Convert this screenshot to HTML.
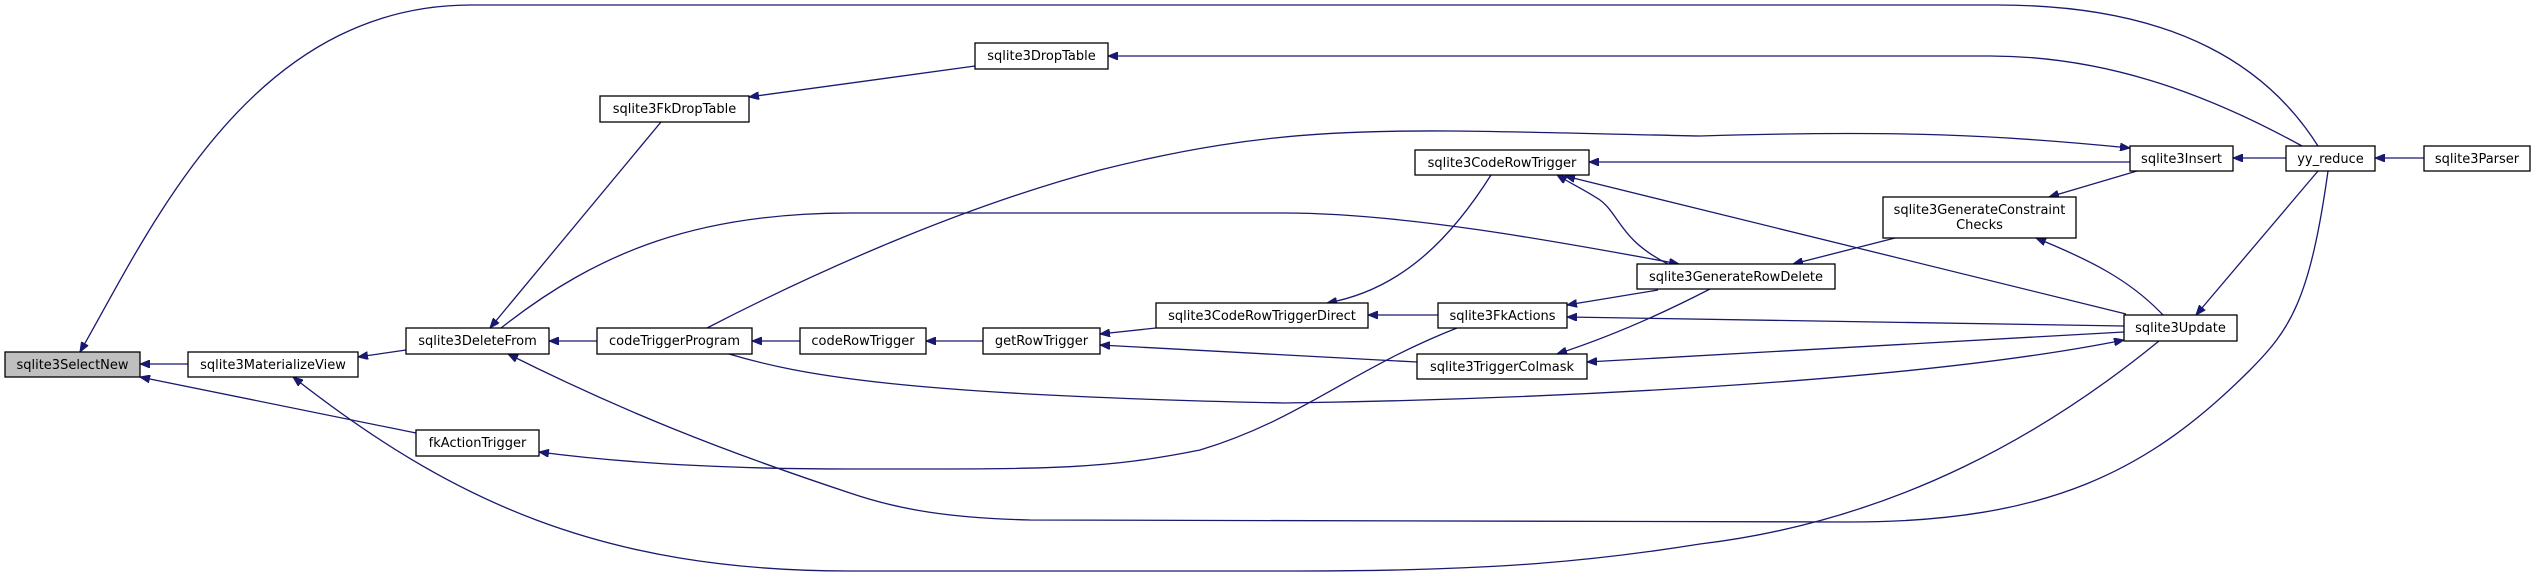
<!DOCTYPE html>
<html><head><meta charset="utf-8"><style>
html,body{margin:0;padding:0;background:#fff;}
svg{display:block;}
text{font-family:"DejaVu Sans","Liberation Sans",sans-serif;font-size:13px;fill:#000;}
.e{fill:none;stroke:#191970;stroke-width:1.3;}
.n{fill:#fff;stroke:#000;stroke-width:1.3;}
</style></head><body>
<svg width="2535" height="572" viewBox="0 0 2535 572" xmlns="http://www.w3.org/2000/svg">
<defs><marker id="a" viewBox="0 0 10 8" refX="10" refY="4" markerWidth="10" markerHeight="8" markerUnits="userSpaceOnUse" orient="auto"><path d="M0,0 L10,4 L0,8 Z" fill="#191970" stroke="#191970"/></marker></defs>
<g class="e" marker-end="url(#a)">
<path d="M2318,146 C2270,70 2180,5 1998,5 L471,5 C250,5 150,230 80,352"/>
<path d="M188,364 L140,364"/>
<path d="M416,433 L140,377"/>
<path d="M406,350 L358,357"/>
<path d="M2159,341 C2050,430 1900,520 1700,544 C1600,560 1500,571 1300,571 L850,571 C600,571 450,500 293,377"/>
<path d="M2328,171 C2310,300 2290,330 2250,370 C2150,470 2050,522 1850,522 L1030,520 C950,518 900,510 850,493 C720,450 620,410 508,354"/>
<path d="M661,122 L490,328"/>
<path d="M975,66 L749,97"/>
<path d="M2302,146 C2200,90 2100,56 1990,56 L1108,56"/>
<path d="M597,341 L549,341"/>
<path d="M501,328 C600,250 700,213 850,213 L1284,213 C1400,213 1550,240 1679,264"/>
<path d="M800,341 L752,341"/>
<path d="M707,328 C800,280 950,210 1100,170 C1300,120 1400,130 1700,136 C1900,130 2000,135 2130,148"/>
<path d="M729,354 C800,375 900,395 1284,403 C1500,400 1900,385 2124,340"/>
<path d="M983,341 L926,341"/>
<path d="M1156,328 L1100,334"/>
<path d="M1417,362 L1100,345"/>
<path d="M1438,315 L1368,315"/>
<path d="M1491,175 C1450,240 1400,290 1327,303"/>
<path d="M2130,162 L1589,162"/>
<path d="M1668,264 C1620,240 1620,215 1600,200 C1585,190 1570,183 1557,175"/>
<path d="M2126,314 L1565,176"/>
<path d="M1658,290 L1567,305"/>
<path d="M2124,326 L1567,317"/>
<path d="M1457,328 C1350,370 1300,420 1200,450 C1100,470 1050,469 850,469 C700,469 600,460 539,452"/>
<path d="M2124,332 L1587,362"/>
<path d="M1710,289 C1650,320 1600,340 1557,354"/>
<path d="M1895,238 L1793,264"/>
<path d="M2137,171 L2049,197"/>
<path d="M2163,315 C2130,280 2090,260 2036,238"/>
<path d="M2286,158 L2233,158"/>
<path d="M2424,158 L2375,158"/>
<path d="M2318,171 L2196,315"/>
</g>
<g>
<rect x="5" y="352" width="135" height="25" fill="#bfbfbf" stroke="#000" stroke-width="1.3"/>
<text x="72.5" y="369" text-anchor="middle">sqlite3SelectNew</text>
<rect class="n" x="188" y="352" width="170" height="25"/><text x="273" y="369" text-anchor="middle">sqlite3MaterializeView</text>
<rect class="n" x="406" y="328" width="143" height="26"/><text x="477.5" y="345" text-anchor="middle">sqlite3DeleteFrom</text>
<rect class="n" x="600" y="96" width="149" height="26"/><text x="674.5" y="113" text-anchor="middle">sqlite3FkDropTable</text>
<rect class="n" x="597" y="328" width="155" height="26"/><text x="674.5" y="345" text-anchor="middle">codeTriggerProgram</text>
<rect class="n" x="416" y="430" width="123" height="26"/><text x="477.5" y="447" text-anchor="middle">fkActionTrigger</text>
<rect class="n" x="800" y="328" width="126" height="26"/><text x="863" y="345" text-anchor="middle">codeRowTrigger</text>
<rect class="n" x="975" y="43" width="133" height="26"/><text x="1041.5" y="60" text-anchor="middle">sqlite3DropTable</text>
<rect class="n" x="983" y="328" width="117" height="26"/><text x="1041.5" y="345" text-anchor="middle">getRowTrigger</text>
<rect class="n" x="1156" y="303" width="212" height="25"/><text x="1262" y="320" text-anchor="middle">sqlite3CodeRowTriggerDirect</text>
<rect class="n" x="1415" y="150" width="174" height="25"/><text x="1502" y="167" text-anchor="middle">sqlite3CodeRowTrigger</text>
<rect class="n" x="1438" y="303" width="129" height="25"/><text x="1502.5" y="320" text-anchor="middle">sqlite3FkActions</text>
<rect class="n" x="1417" y="354" width="170" height="25"/><text x="1502" y="371" text-anchor="middle">sqlite3TriggerColmask</text>
<rect class="n" x="1637" y="264" width="198" height="25"/><text x="1736" y="281" text-anchor="middle">sqlite3GenerateRowDelete</text>
<rect class="n" x="1883" y="197" width="193" height="41"/><text x="1979.5" y="214" text-anchor="middle">sqlite3GenerateConstraint</text><text x="1979.5" y="229" text-anchor="middle">Checks</text>
<rect class="n" x="2130" y="146" width="103" height="25"/><text x="2181.5" y="163" text-anchor="middle">sqlite3Insert</text>
<rect class="n" x="2124" y="315" width="113" height="26"/><text x="2180.5" y="332" text-anchor="middle">sqlite3Update</text>
<rect class="n" x="2286" y="146" width="89" height="25"/><text x="2330.5" y="163" text-anchor="middle">yy_reduce</text>
<rect class="n" x="2424" y="146" width="106" height="25"/><text x="2477" y="163" text-anchor="middle">sqlite3Parser</text>
</g>
</svg>
</body></html>
